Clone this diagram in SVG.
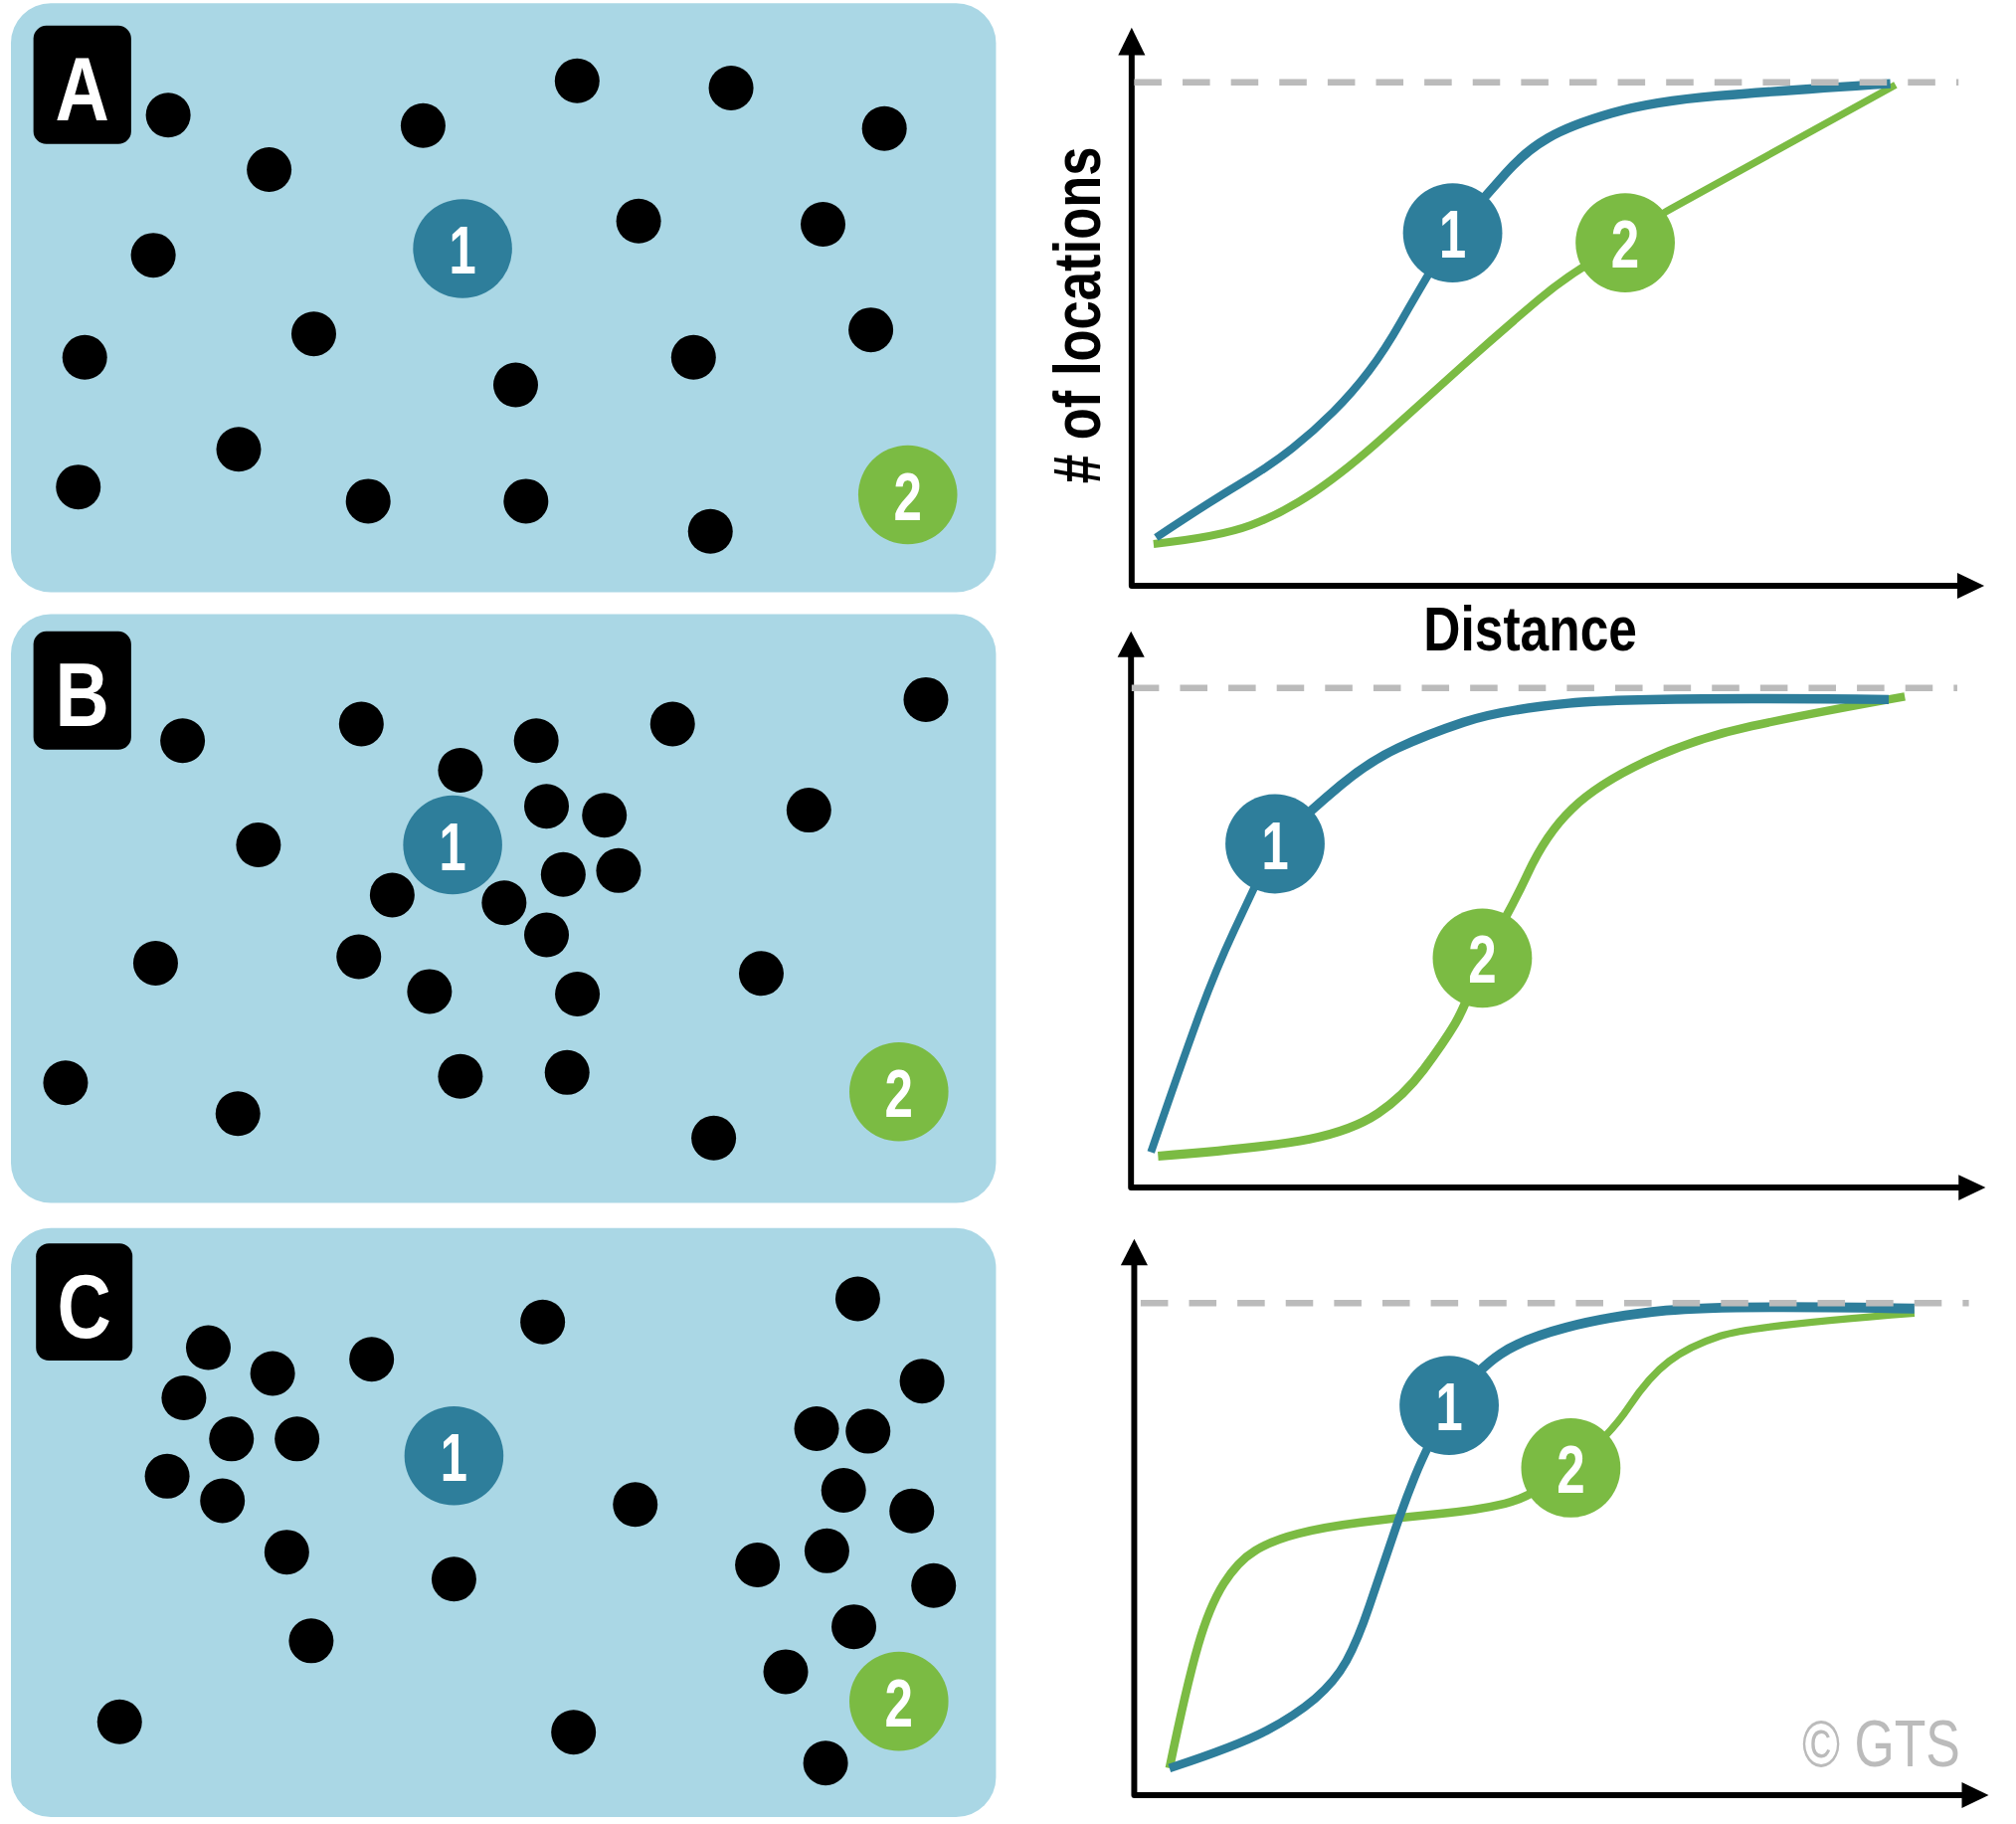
<svg xmlns="http://www.w3.org/2000/svg" width="2027" height="1834" viewBox="0 0 2027 1834">
<style>
.panel{fill:#aad7e5}
.lbox{fill:#000}
.ltxt{font-family:"Liberation Sans",Arial,sans-serif;font-weight:bold;font-size:70px;fill:#fff;text-anchor:middle}
.dot{fill:#000}
.c1{fill:#2e7e9b}
.c2{fill:#7bbb43}
.num{font-family:"Liberation Sans",Arial,sans-serif;font-weight:bold;font-size:53px;fill:#fff;text-anchor:middle}
.axis{fill:none;stroke:#000;stroke-width:4.6;stroke-linejoin:round}
.arrow{fill:#000}
.dash{fill:none;stroke:#bbbbbb;stroke-width:5;stroke-dasharray:21.3 16.3}
.blue{fill:none;stroke:#2e7e9b;stroke-linejoin:round}
.green{fill:none;stroke:#7bbb43;stroke-linejoin:round}
.axtxt{font-family:"Liberation Sans",Arial,sans-serif;font-weight:bold;fill:#000;text-anchor:middle}
.copy{font-family:"Liberation Sans",Arial,sans-serif;font-size:51px;fill:#bbbbbb}
</style>
<rect width="2027" height="1834" fill="#fff"/>
<g transform="scale(1.293)">
<g id="panel-a">
<rect class="panel" x="8.5" y="2.5" width="766" height="458" rx="31"/>
<rect class="lbox" x="26" y="20" width="76" height="92" rx="10"/>
<text class="ltxt" x="64" y="93.3" textLength="42" lengthAdjust="spacingAndGlyphs">A</text>
<circle class="dot" cx="130.8" cy="89.5" r="17.4"/>
<circle class="dot" cx="209.3" cy="131.9" r="17.4"/>
<circle class="dot" cx="329" cy="97.7" r="17.4"/>
<circle class="dot" cx="448.8" cy="62.9" r="17.4"/>
<circle class="dot" cx="568.5" cy="68.4" r="17.4"/>
<circle class="dot" cx="687.7" cy="99.9" r="17.4"/>
<circle class="dot" cx="119.2" cy="198.5" r="17.4"/>
<circle class="dot" cx="496.6" cy="171.9" r="17.4"/>
<circle class="dot" cx="640" cy="174.4" r="17.4"/>
<circle class="dot" cx="244" cy="259.6" r="17.4"/>
<circle class="dot" cx="65.9" cy="277.9" r="17.4"/>
<circle class="dot" cx="401" cy="299.3" r="17.4"/>
<circle class="dot" cx="539.3" cy="277.9" r="17.4"/>
<circle class="dot" cx="677.2" cy="256.5" r="17.4"/>
<circle class="dot" cx="185.6" cy="349.4" r="17.4"/>
<circle class="dot" cx="60.9" cy="378.7" r="17.4"/>
<circle class="dot" cx="286.3" cy="389.7" r="17.4"/>
<circle class="dot" cx="409" cy="389.7" r="17.4"/>
<circle class="dot" cx="552.4" cy="413.2" r="17.4"/>
<circle class="c1" cx="359.7" cy="193.3" r="38.5"/>
<text class="num" x="359.7" y="212.8" textLength="21" lengthAdjust="spacingAndGlyphs">1</text>
<circle class="c2" cx="705.9" cy="384.8" r="38.5"/>
<text class="num" x="705.9" y="404.3" textLength="22" lengthAdjust="spacingAndGlyphs">2</text>
</g>
<g id="panel-b">
<rect class="panel" x="8.5" y="477.5" width="766" height="458" rx="31"/>
<rect class="lbox" x="26" y="491" width="76" height="92" rx="10"/>
<text class="ltxt" x="64" y="564.3" textLength="42" lengthAdjust="spacingAndGlyphs">B</text>
<circle class="dot" cx="142" cy="576" r="17.4"/>
<circle class="dot" cx="281" cy="563" r="17.4"/>
<circle class="dot" cx="417" cy="576" r="17.4"/>
<circle class="dot" cx="523" cy="563" r="17.4"/>
<circle class="dot" cx="720" cy="544" r="17.4"/>
<circle class="dot" cx="358" cy="599" r="17.4"/>
<circle class="dot" cx="425" cy="627" r="17.4"/>
<circle class="dot" cx="470" cy="634" r="17.4"/>
<circle class="dot" cx="629" cy="630" r="17.4"/>
<circle class="dot" cx="201" cy="657" r="17.4"/>
<circle class="dot" cx="438" cy="680" r="17.4"/>
<circle class="dot" cx="481" cy="677" r="17.4"/>
<circle class="dot" cx="305" cy="696" r="17.4"/>
<circle class="dot" cx="392" cy="702" r="17.4"/>
<circle class="dot" cx="425" cy="727" r="17.4"/>
<circle class="dot" cx="121" cy="749" r="17.4"/>
<circle class="dot" cx="279" cy="744" r="17.4"/>
<circle class="dot" cx="334" cy="771" r="17.4"/>
<circle class="dot" cx="449" cy="773" r="17.4"/>
<circle class="dot" cx="592" cy="757" r="17.4"/>
<circle class="dot" cx="51" cy="842" r="17.4"/>
<circle class="dot" cx="185" cy="866" r="17.4"/>
<circle class="dot" cx="358" cy="837" r="17.4"/>
<circle class="dot" cx="441" cy="834" r="17.4"/>
<circle class="dot" cx="555" cy="885" r="17.4"/>
<circle class="c1" cx="352" cy="657" r="38.5"/>
<text class="num" x="352" y="676.5" textLength="21" lengthAdjust="spacingAndGlyphs">1</text>
<circle class="c2" cx="699" cy="849" r="38.5"/>
<text class="num" x="699" y="868.5" textLength="22" lengthAdjust="spacingAndGlyphs">2</text>
</g>
<g id="panel-c">
<rect class="panel" x="8.5" y="955" width="766" height="458" rx="31"/>
<rect class="lbox" x="28" y="967" width="75" height="91" rx="10"/>
<text class="ltxt" x="65.5" y="1040" textLength="42" lengthAdjust="spacingAndGlyphs">C</text>
<circle class="dot" cx="162" cy="1048" r="17.4"/>
<circle class="dot" cx="212" cy="1068" r="17.4"/>
<circle class="dot" cx="289" cy="1057" r="17.4"/>
<circle class="dot" cx="422" cy="1028" r="17.4"/>
<circle class="dot" cx="667" cy="1010" r="17.4"/>
<circle class="dot" cx="717" cy="1074" r="17.4"/>
<circle class="dot" cx="143" cy="1087" r="17.4"/>
<circle class="dot" cx="180" cy="1119" r="17.4"/>
<circle class="dot" cx="231" cy="1119" r="17.4"/>
<circle class="dot" cx="635" cy="1111" r="17.4"/>
<circle class="dot" cx="675" cy="1113" r="17.4"/>
<circle class="dot" cx="130" cy="1148" r="17.4"/>
<circle class="dot" cx="173" cy="1167" r="17.4"/>
<circle class="dot" cx="656" cy="1159" r="17.4"/>
<circle class="dot" cx="494" cy="1170" r="17.4"/>
<circle class="dot" cx="709" cy="1175" r="17.4"/>
<circle class="dot" cx="223" cy="1207" r="17.4"/>
<circle class="dot" cx="353" cy="1228" r="17.4"/>
<circle class="dot" cx="589" cy="1217" r="17.4"/>
<circle class="dot" cx="643" cy="1206" r="17.4"/>
<circle class="dot" cx="726" cy="1233" r="17.4"/>
<circle class="dot" cx="242" cy="1276" r="17.4"/>
<circle class="dot" cx="664" cy="1265" r="17.4"/>
<circle class="dot" cx="611" cy="1300" r="17.4"/>
<circle class="dot" cx="93" cy="1339" r="17.4"/>
<circle class="dot" cx="446" cy="1347" r="17.4"/>
<circle class="dot" cx="642" cy="1371" r="17.4"/>
<circle class="c1" cx="353" cy="1132" r="38.5"/>
<text class="num" x="353" y="1151.5" textLength="21" lengthAdjust="spacingAndGlyphs">1</text>
<circle class="c2" cx="699" cy="1323" r="38.5"/>
<text class="num" x="699" y="1342.5" textLength="22" lengthAdjust="spacingAndGlyphs">2</text>
</g>
<g id="chart-a-axes">
<path class="axis" d="M880,42 V455.5 H1524"/>
<polygon class="arrow" points="880,21.5 869.5,43 890.5,43"/>
<polygon class="arrow" points="1543,455.5 1522,445.5 1522,465.5"/>
<text class="axtxt" font-size="52" transform="translate(855.5,245) rotate(-90)" x="0" y="0" textLength="262" lengthAdjust="spacingAndGlyphs"># of locations</text>
<text class="axtxt" font-size="48" x="1190" y="505.8" textLength="166" lengthAdjust="spacingAndGlyphs">Distance</text>
</g>
<g id="chart-b-axes">
<path class="axis" d="M879.5,510 V923.5 H1525"/>
<polygon class="arrow" points="879.5,491 869,511 890,511"/>
<polygon class="arrow" points="1544,923.5 1523,913.5 1523,933.5"/>
</g>
<g id="chart-c-axes">
<path class="axis" d="M882,983 V1396 H1527"/>
<polygon class="arrow" points="882,963.4 871.5,984 892.5,984"/>
<polygon class="arrow" points="1546.4,1396 1525.5,1386 1525.5,1406"/>
</g>
<g id="connectors">
<path class="green" stroke-width="6.2" d="M897,423 Q948,417.6 972.7,408.4 Q997.5,399.1 1022.4,382.4 Q1047.2,365.6 1077,338.8 Q1106.8,311.9 1136.6,285.1 Q1166.4,258.3 1196.2,233.2 Q1226,208 1264,189"/>
<path class="green" stroke-width="5.6" d="M1264,189 Q1285,170 1300,162 L1474,66"/>
<path class="blue" stroke-width="6.2" d="M899,418 Q938,392 963,377 Q988,362 1005,348.5 Q1022,335 1037,320 Q1052,305 1064.5,288.5 Q1077,272 1089.5,250 Q1102,228 1130,181"/>
<path class="blue" stroke-width="7.2" d="M1130,181 Q1156.5,151 1171.4,134.2 Q1186.3,117.4 1203.7,107.4 Q1221,97.3 1253.3,88 Q1285.6,78.8 1335.3,74.6 Q1385,70.4 1470,65"/>
<path class="green" stroke-width="7" d="M900.5,899 Q985,892.4 1018.2,885.8 Q1051.5,879.1 1071.5,865.8 Q1091.4,852.5 1107,831.8 Q1122.5,811 1131.4,796.2 Q1140.2,781.4 1152.7,745"/>
<path class="green" stroke-width="6.6" d="M1152.7,745 Q1173.5,710.4 1188,679.3 Q1202.4,648.2 1222.4,629 Q1242.3,609.7 1280,592 Q1317.8,574.2 1362.2,564.6 Q1406.6,555 1481.2,541.7"/>
<path class="blue" stroke-width="6" d="M895,896 Q918,829 931.5,792 Q945,755 959.5,724 Q974,693 991.5,656"/>
<path class="blue" stroke-width="7.2" d="M991.5,656 Q1020.4,629 1042.6,610.5 Q1064.8,592 1087,581.7 Q1109.2,571.3 1138,561.7 Q1166.9,552 1220,546.9 Q1273.4,541.7 1468.7,544"/>
<path class="green" stroke-width="6.6" d="M909.4,1375 Q922.7,1310.6 931.6,1279.9 Q940.5,1249.1 951.6,1231.5 Q962.7,1213.9 976,1205.9 Q989.3,1197.8 1009.3,1192.7 Q1029.3,1187.5 1058.2,1183.9 Q1087,1180.2 1118,1177.3 Q1149.1,1174.4 1170.2,1169.3 Q1191.3,1164.1 1221.5,1141.5"/>
<path class="green" stroke-width="5.6" d="M1221.5,1141.5 Q1251.2,1117.2 1266.8,1093.8 Q1282.3,1070.3 1297.9,1058.6 Q1313.4,1046.9 1337.8,1038.9 Q1362.2,1030.8 1488.7,1021.1"/>
<path class="blue" stroke-width="6.6" d="M909.4,1375 Q962.7,1357.5 984.9,1345.8 Q1007.1,1334 1022.6,1320.9 Q1038.1,1307.7 1047,1291.6 Q1055.9,1275.4 1064.8,1249 Q1073.7,1222.7 1082.6,1196.4 Q1091.4,1170 1100.3,1148 Q1109.2,1126 1127,1093"/>
<path class="blue" stroke-width="7.6" d="M1127,1093 Q1149.1,1064.5 1166.9,1052.8 Q1184.6,1041 1217.9,1032.3 Q1251.2,1023.5 1295.6,1019.1 Q1340,1014.7 1488.7,1017.6"/>
</g>
<g id="limits">
<line class="dash" x1="882" y1="64" x2="1523" y2="64"/>
<line class="dash" x1="880" y1="535" x2="1522" y2="535"/>
<line class="dash" x1="887" y1="1013.3" x2="1531" y2="1013.3"/>
</g>
<g id="chart-a-markers">
<circle class="c1" cx="1129.6" cy="181.1" r="38.6"/>
<text class="num" x="1129.6" y="200.6" textLength="21" lengthAdjust="spacingAndGlyphs">1</text>
<circle class="c2" cx="1263.8" cy="188.8" r="38.6"/>
<text class="num" x="1263.8" y="208.3" textLength="22" lengthAdjust="spacingAndGlyphs">2</text>
</g>
<g id="chart-b-markers">
<circle class="c1" cx="991.5" cy="656.2" r="38.6"/>
<text class="num" x="991.5" y="675.7" textLength="21" lengthAdjust="spacingAndGlyphs">1</text>
<circle class="c2" cx="1152.7" cy="745" r="38.6"/>
<text class="num" x="1152.7" y="764.5" textLength="22" lengthAdjust="spacingAndGlyphs">2</text>
</g>
<g id="chart-c-markers">
<circle class="c1" cx="1126.9" cy="1092.9" r="38.6"/>
<text class="num" x="1126.9" y="1112.4" textLength="21" lengthAdjust="spacingAndGlyphs">1</text>
<circle class="c2" cx="1221.5" cy="1141.5" r="38.6"/>
<text class="num" x="1221.5" y="1161" textLength="22" lengthAdjust="spacingAndGlyphs">2</text>
</g>
<text class="copy" x="1401.3" y="1373.6" textLength="123" lengthAdjust="spacingAndGlyphs">© GTS</text>
</g>
</svg>
